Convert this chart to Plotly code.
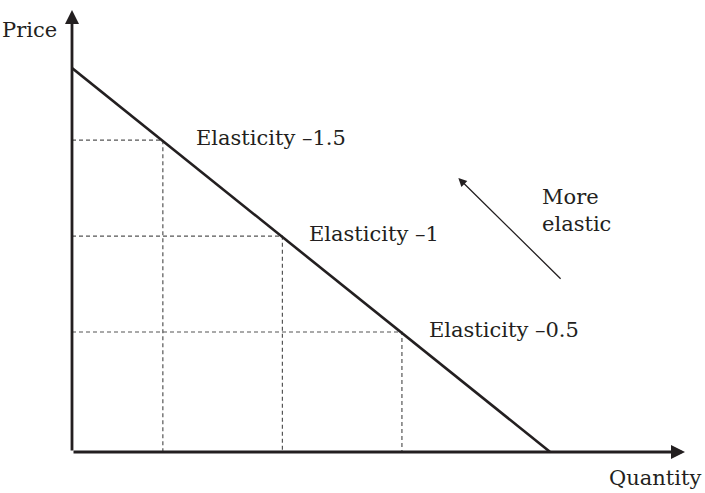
import plotly.graph_objects as go

# Demand line endpoints (quantity, price)
demand_q = [0, 10]
demand_p = [8, 0]

# Points on the demand curve
point_q = [1.9, 4.4, 6.9]
point_p = [6.5, 4.5, 2.5]
point_labels = ["Elasticity –1.5", "Elasticity –1", "Elasticity –0.5"]
label_xshift = [31, 25, 25]

# Axis extents
x_max = 12.82
y_max = 9.21

# "More elastic" arrow (tail -> head)
arrow_tail = (10.25, 3.58)
arrow_head = (8.08, 5.71)

INK = "#231f20"
FONT = "DejaVu Serif"
FS = 21

fig = go.Figure()

# dashed guide lines
for q, p in zip(point_q, point_p):
    fig.add_trace(go.Scatter(x=[0, q, q], y=[p, p, 0], mode="lines",
                             line=dict(color="#555555", width=1.2, dash="4px,3px"),
                             hoverinfo="skip", showlegend=False))

# demand line
fig.add_trace(go.Scatter(x=demand_q, y=demand_p, mode="lines",
                         line=dict(color=INK, width=2.6),
                         hoverinfo="skip", showlegend=False))

annotations = []
# axes with arrows
annotations.append(dict(x=x_max, y=0, ax=0, ay=0, xref="x", yref="y", axref="x", ayref="y",
                        showarrow=True, arrowhead=2, arrowsize=1, arrowwidth=2.8,
                        arrowcolor=INK, text=""))
annotations.append(dict(x=0, y=y_max, ax=0, ay=0, xref="x", yref="y", axref="x", ayref="y",
                        showarrow=True, arrowhead=2, arrowsize=1, arrowwidth=2.8,
                        arrowcolor=INK, text=""))
# more elastic arrow
annotations.append(dict(x=arrow_head[0], y=arrow_head[1], ax=arrow_tail[0], ay=arrow_tail[1],
                        xref="x", yref="y", axref="x", ayref="y",
                        showarrow=True, arrowhead=2, arrowsize=1.3, arrowwidth=1.3,
                        arrowcolor=INK, text=""))

for q, p, t, xs in zip(point_q, point_p, point_labels, label_xshift):
    annotations.append(dict(x=q, y=p, xref="x", yref="y", text=t, showarrow=False,
                            xanchor="left", yanchor="middle", xshift=xs, yshift=2,
                            font=dict(family=FONT, size=FS, color=INK)))

annotations.append(dict(x=9.79, y=5.04, xref="x", yref="y", text="More<br>elastic",
                        showarrow=False, xanchor="left", yanchor="middle", align="left",
                        font=dict(family=FONT, size=FS, color=INK)))
annotations.append(dict(x=-0.022, y=0.955, xref="paper", yref="paper", text="Price",
                        showarrow=False, xanchor="right", yanchor="middle",
                        font=dict(family=FONT, size=FS, color=INK)))
annotations.append(dict(x=1.029, y=-0.059, xref="paper", yref="paper", text="Quantity",
                        showarrow=False, xanchor="right", yanchor="middle",
                        font=dict(family=FONT, size=FS, color=INK)))

fig.update_layout(
    width=705, height=493,
    margin=dict(l=72, r=20, t=10, b=41),
    paper_bgcolor="white", plot_bgcolor="white",
    xaxis=dict(range=[0, x_max], visible=False, fixedrange=True),
    yaxis=dict(range=[0, y_max], visible=False, fixedrange=True),
    annotations=annotations,
    showlegend=False,
)

fig.write_html(
    "out.html",
    config={"displayModeBar": False, "staticPlot": True},
    post_script="document.body.style.margin='0';document.documentElement.style.overflow='hidden';",
)
